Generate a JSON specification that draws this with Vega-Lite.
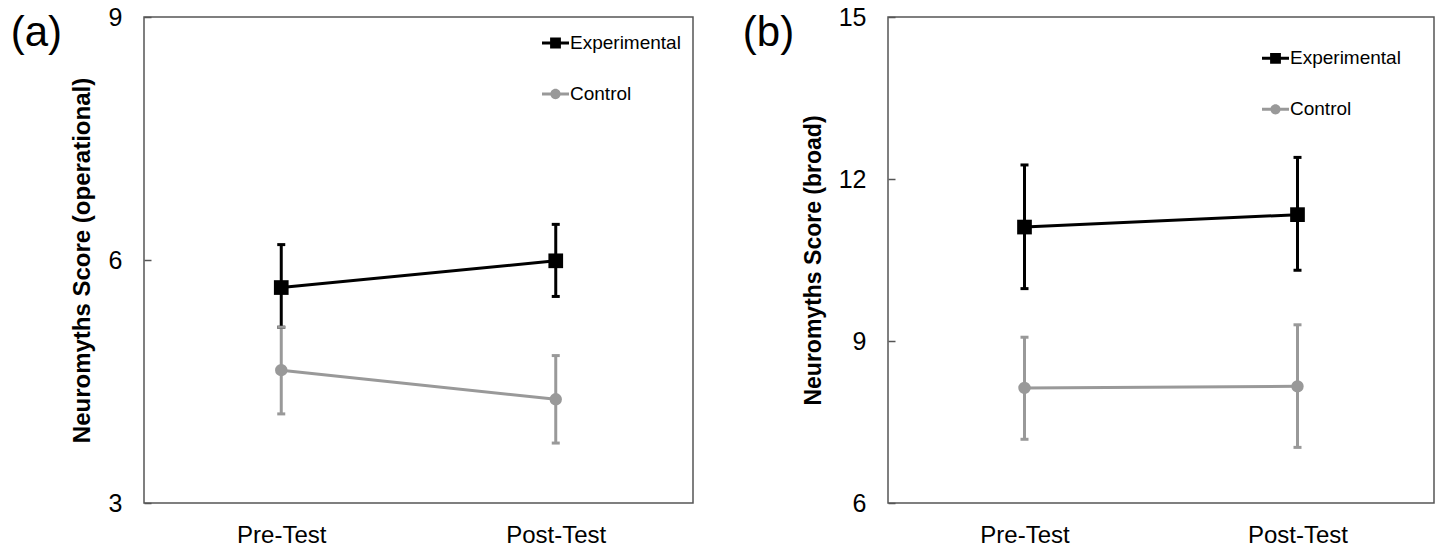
{
  "$schema": "https://vega.github.io/schema/vega-lite/v6.json",
  "padding": {"left": 10, "top": 4, "right": 0, "bottom": 0},
  "spacing": 48,
  "background": "white",
  "config": {
    "font": "Liberation Sans",
    "view": {"stroke": "#555555", "strokeWidth": 1.5},
    "axis": {"grid": false, "domain": false, "labelColor": "black", "labelFont": "Liberation Sans", "titleColor": "black", "titleFont": "Liberation Sans"},
    "axisX": {"ticks": false, "labelAngle": 0, "labelFontSize": 24, "labelPadding": 20, "title": null},
    "axisY": {"tickSize": -7, "tickColor": "#555555", "tickWidth": 1.5, "labelFontSize": 25, "labelPadding": 29, "titleFontWeight": "bold"},
    "legend": {"title": null, "labelFontSize": 19, "labelFont": "Liberation Sans", "labelColor": "black", "labelOffset": 1, "rowPadding": 27, "symbolSize": 729, "padding": 0, "orient": "none"},
    "title": {"font": "Liberation Sans", "fontWeight": "normal", "color": "black"}
  },
  "datasets": {
    "a": [
      {"group": "Experimental", "time": "Pre-Test", "mean": 5.66, "lo": 5.17, "hi": 6.19},
      {"group": "Experimental", "time": "Post-Test", "mean": 5.99, "lo": 5.55, "hi": 6.44},
      {"group": "Control", "time": "Pre-Test", "mean": 4.64, "lo": 4.10, "hi": 5.17},
      {"group": "Control", "time": "Post-Test", "mean": 4.28, "lo": 3.74, "hi": 4.82}
    ],
    "b": [
      {"group": "Experimental", "time": "Pre-Test", "mean": 11.11, "lo": 9.97, "hi": 12.26},
      {"group": "Experimental", "time": "Post-Test", "mean": 11.34, "lo": 10.31, "hi": 12.40},
      {"group": "Control", "time": "Pre-Test", "mean": 8.13, "lo": 7.18, "hi": 9.07},
      {"group": "Control", "time": "Post-Test", "mean": 8.16, "lo": 7.03, "hi": 9.30}
    ]
  },
  "hconcat": [
    {
      "width": 549,
      "height": 486,
      "title": {"text": "(a)", "orient": "left", "anchor": "end", "angle": 0, "fontSize": 42, "align": "left", "baseline": "top", "offset": 8, "dy": 8},
      "data": {"name": "a"},
      "encoding": {
        "x": {"field": "time", "type": "nominal", "sort": ["Pre-Test", "Post-Test"], "scale": {"type": "point", "padding": 0.5}},
        "color": {
          "field": "group", "type": "nominal",
          "scale": {"domain": ["Experimental", "Control"], "range": ["#000000", "#999999"]},
          "legend": {
            "legendX": 398, "legendY": 12.5,
            "encode": {"symbols": {"update": {
              "shape": {"signal": "datum.value === 'Experimental' ? 'M-1,-0.11H-0.4V0.11H-1Z M0.4,-0.11H1V0.11H0.4Z M-0.4,-0.4H0.4V0.4H-0.4Z' : 'M-1,-0.11H-0.36V0.11H-1Z M0.36,-0.11H1V0.11H0.36Z M0.38,0A0.38,0.38 0 1,1 -0.38,0A0.38,0.38 0 1,1 0.38,0Z'"},
              "size": {"value": 729},
              "fill": {"signal": "datum.value === 'Experimental' ? '#000000' : '#999999'"},
              "stroke": {"value": "transparent"},
              "fillOpacity": {"value": 1},
              "opacity": {"value": 1},
              "strokeWidth": {"value": 0}
            }}}
          }
        },
        "y": {"field": "mean", "type": "quantitative", "scale": {"domain": [3, 9]}, "axis": {"values": [3, 6, 9], "title": "Neuromyths Score (operational)", "titleFontSize": 24, "titlePadding": 14}}
      },
      "layer": [
        {"mark": {"type": "rule", "strokeWidth": 3}, "encoding": {"y": {"field": "lo", "type": "quantitative"}, "y2": {"field": "hi"}}},
        {"mark": {"type": "tick", "thickness": 3, "size": 8, "opacity": 1}, "encoding": {"y": {"field": "lo", "type": "quantitative"}}},
        {"mark": {"type": "tick", "thickness": 3, "size": 8, "opacity": 1}, "encoding": {"y": {"field": "hi", "type": "quantitative"}}},
        {"mark": {"type": "line", "strokeWidth": 3}, "encoding": {}},
        {"transform": [{"filter": "datum.group === 'Experimental'"}], "mark": {"type": "point", "shape": "square", "size": 216, "filled": true, "opacity": 1}, "encoding": {}},
        {"transform": [{"filter": "datum.group === 'Control'"}], "mark": {"type": "point", "shape": "circle", "size": 154, "filled": true, "opacity": 1}, "encoding": {}}
      ]
    },
    {
      "width": 546,
      "height": 486,
      "title": {"text": "(b)", "orient": "left", "anchor": "end", "angle": 0, "fontSize": 42, "align": "left", "baseline": "top", "offset": 8, "dy": 8},
      "data": {"name": "b"},
      "encoding": {
        "x": {"field": "time", "type": "nominal", "sort": ["Pre-Test", "Post-Test"], "scale": {"type": "point", "padding": 0.5}},
        "color": {
          "field": "group", "type": "nominal",
          "scale": {"domain": ["Experimental", "Control"], "range": ["#000000", "#999999"]},
          "legend": {
            "legendX": 374, "legendY": 27.8,
            "encode": {"symbols": {"update": {
              "shape": {"signal": "datum.value === 'Experimental' ? 'M-1,-0.11H-0.4V0.11H-1Z M0.4,-0.11H1V0.11H0.4Z M-0.4,-0.4H0.4V0.4H-0.4Z' : 'M-1,-0.11H-0.36V0.11H-1Z M0.36,-0.11H1V0.11H0.36Z M0.38,0A0.38,0.38 0 1,1 -0.38,0A0.38,0.38 0 1,1 0.38,0Z'"},
              "size": {"value": 729},
              "fill": {"signal": "datum.value === 'Experimental' ? '#000000' : '#999999'"},
              "stroke": {"value": "transparent"},
              "fillOpacity": {"value": 1},
              "opacity": {"value": 1},
              "strokeWidth": {"value": 0}
            }}}
          }
        },
        "y": {"field": "mean", "type": "quantitative", "scale": {"domain": [6, 15]}, "axis": {"values": [6, 9, 12, 15], "title": "Neuromyths Score (broad)", "titleFontSize": 23, "titlePadding": 13}}
      },
      "layer": [
        {"mark": {"type": "rule", "strokeWidth": 3}, "encoding": {"y": {"field": "lo", "type": "quantitative"}, "y2": {"field": "hi"}}},
        {"mark": {"type": "tick", "thickness": 3, "size": 8, "opacity": 1}, "encoding": {"y": {"field": "lo", "type": "quantitative"}}},
        {"mark": {"type": "tick", "thickness": 3, "size": 8, "opacity": 1}, "encoding": {"y": {"field": "hi", "type": "quantitative"}}},
        {"mark": {"type": "line", "strokeWidth": 3}, "encoding": {}},
        {"transform": [{"filter": "datum.group === 'Experimental'"}], "mark": {"type": "point", "shape": "square", "size": 216, "filled": true, "opacity": 1}, "encoding": {}},
        {"transform": [{"filter": "datum.group === 'Control'"}], "mark": {"type": "point", "shape": "circle", "size": 154, "filled": true, "opacity": 1}, "encoding": {}}
      ]
    }
  ],
  "resolve": {"scale": {"color": "independent", "x": "independent", "y": "independent"}, "legend": {"color": "independent"}}
}
